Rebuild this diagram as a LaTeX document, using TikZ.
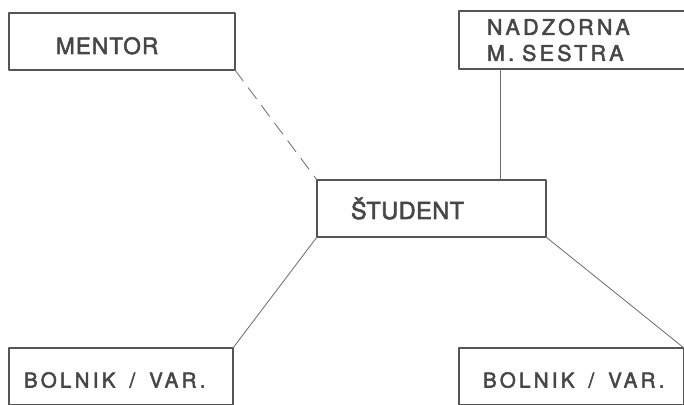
\documentclass[tikz,border=0pt]{standalone}
\usepackage{fontspec}
\newfontfamily\stencil[FakeBold=2.5]{TeX Gyre Heros}
\newcommand\lettering[3]{\stencil\fontsize{#1}{#2}\selectfont\addfontfeatures{LetterSpace=#3}}
\definecolor{boxgray}{HTML}{555555}
\definecolor{inkgray}{HTML}{474747}
\definecolor{linegray}{HTML}{6A6A6A}
\begin{document}
\begin{tikzpicture}[x=1pt, y=1pt, line join=round,
    unit/.style={draw=boxgray, line width=2.2pt, rectangle, inner xsep=0pt, outer sep=0pt,
      minimum height=57pt, align=left, text=inkgray},
    drop/.style={text height=#1, text depth=0pt},
    link/.style={draw=linegray, line width=0.8pt}]
  \useasboundingbox (0,0) rectangle (684,404);
  \clip (0,0) rectangle (684,404);
  % boxes
  \node[unit, drop=25pt, text width=226pt, font=\lettering{22.5}{26}{5}] (mentor) at (122,362.5) {\hspace*{47pt}MENTOR};
  \node[unit, text width=227pt, minimum height=58pt, font=\lettering{21.5}{26}{15}] (nadz) at (572.5,364)
    {\hspace*{28pt}NADZORNA\\\hspace*{28pt}M.\hspace{8pt}SESTRA};
  \node[unit, drop=21pt, text width=229pt, font=\lettering{23.5}{27}{2}] (student) at (431.5,195.5) {\hspace*{34pt}ŠTUDENT};
  \node[unit, drop=22pt, text width=224pt, font=\lettering{20.5}{25}{16}] (bolnikl) at (121,27.5)
    {\hspace*{15pt}BOLNIK\hspace{14pt}/\hspace{14pt}VAR.};
  \node[unit, drop=22pt, text width=225pt, font=\lettering{20.5}{25}{16}] (bolnikr) at (571.5,27.5)
    {\hspace*{24pt}BOLNIK\hspace{14pt}/\hspace{14pt}VAR.};
  % connectors
  \draw[link, dash pattern=on 14pt off 8pt] (mentor.south east) -- (student.north west);
  \draw[link] ([xshift=41pt]nadz.south west) -- ([xshift=41pt]nadz.south west |- student.north);
  \draw[link] (student.south west) -- (bolnikl.north east);
  \draw[link] (student.south east) -- (bolnikr.north east);
\end{tikzpicture}
\end{document}
